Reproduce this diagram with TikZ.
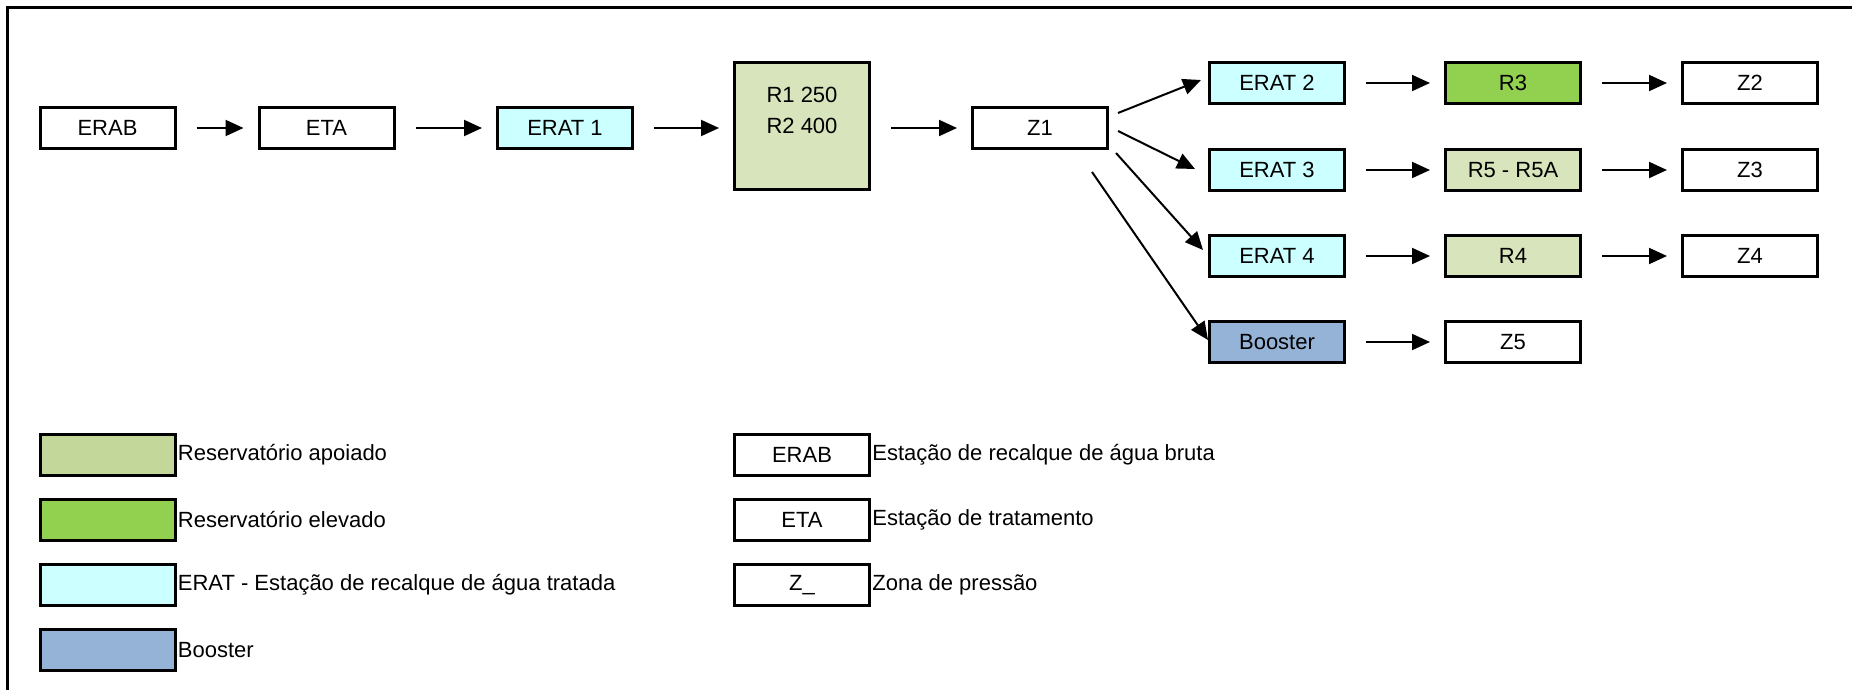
\documentclass[tikz,border=0pt]{standalone}
\usepackage{fontspec}
\setmainfont{Liberation Sans}
\usetikzlibrary{arrows.meta}

\definecolor{apoiado}{HTML}{D8E4BC}
\definecolor{apoiadoleg}{HTML}{C4D79B}
\definecolor{elevado}{HTML}{92D050}
\definecolor{eratcor}{HTML}{CCFFFF}
\definecolor{boostercor}{HTML}{95B3D7}

\begin{document}
\begin{tikzpicture}[x=0.5pt,y=-0.5pt,
		box/.style={draw,line width=1.5pt,minimum width=67.5pt,minimum height=20.5pt,inner sep=0pt,align=center,font=\fontsize{11}{15.5}\selectfont},
		flow/.style={-{Triangle[length=9pt,width=8pt]},line width=1pt,shorten <=10pt,shorten >=7pt},
		ramo/.style={-{Triangle[length=9pt,width=8pt]},line width=1pt},
		legtext/.style={inner sep=0.5pt,font=\fontsize{11}{13}\selectfont}]
				\useasboundingbox (0,0) rectangle (1852,690);
				% moldura
				\draw[line width=1.5pt] (7,690) -- (7,7.5) -- (1852,7.5);
				
				% linha principal
				\node[box] (erab) at (107.5,128) {ERAB};
				\node[box] (eta) at (326.5,128) {ETA};
				\node[box,fill=eratcor] (erat1) at (565,128) {ERAT 1};
				\node[box,fill=apoiado,minimum height=63.5pt] (r12) at (802,126) {R1 250\\R2 400\\\mbox{}};
				\node[box] (z1) at (1040,128) {Z1};
				
				% ramais
				\node[box,fill=eratcor] (erat2) at (1277,83) {ERAT 2};
				\node[box,fill=eratcor] (erat3) at (1277,170) {ERAT 3};
				\node[box,fill=eratcor] (erat4) at (1277,256) {ERAT 4};
				\node[box,fill=boostercor] (booster) at (1277,342) {Booster};
				\node[box,fill=elevado] (r3) at (1513,83) {R3};
				\node[box,fill=apoiado] (r5) at (1513,170) {R5 - R5A};
				\node[box,fill=apoiado] (r4) at (1513,256) {R4};
				\node[box] (z5) at (1513,342) {Z5};
				\node[box] (z2) at (1750,83) {Z2};
				\node[box] (z3) at (1750,170) {Z3};
				\node[box] (z4) at (1750,256) {Z4};
				
				\draw[flow] (erab) -- (eta);
				\draw[flow] (eta) -- (erat1);
				\draw[flow] (erat1) -- (erat1 -| r12.west);
				\draw[flow] (r12.east |- z1) -- (z1);
				\draw[flow] (erat2) -- (r3);
				\draw[flow] (r3) -- (z2);
				\draw[flow] (erat3) -- (r5);
				\draw[flow] (r5) -- (z3);
				\draw[flow] (erat4) -- (r4);
				\draw[flow] (r4) -- (z4);
				\draw[flow] (booster) -- (z5);
				
				% saidas de Z1
				\draw[ramo] ([shift={(9,-15)}]z1.east) -- ([shift={(-7,-3)}]erat2.west);
				\draw[ramo] ([shift={(9,3)}]z1.east) -- ([shift={(-13,-1)}]erat3.west);
				\draw[ramo] ([shift={(7,3)}]z1.south east) -- ([shift={(-5,-6)}]erat4.west);
				\draw[ramo] ([shift={(-17,22)}]z1.south east) -- ([shift={(0,-2)}]booster.west);
				
				% legenda
				\node[box,fill=apoiadoleg,label={[legtext]east:Reservatório apoiado}] (legapoiado) at (107.5,455) {};
				\node[box,fill=elevado,label={[legtext]east:Reservatório elevado}] (legelevado) at (107.5,520) {};
				\node[box,fill=eratcor,label={[legtext]east:ERAT - Estação de recalque de água tratada}] (legerat) at (107.5,585) {};
				\node[box,fill=boostercor,label={[legtext]east:Booster}] (legbooster) at (107.5,650) {};
				\node[box,label={[legtext]east:Estação de recalque de água bruta}] (legerab) at (802,455) {ERAB};
				\node[box,label={[legtext]east:Estação de tratamento}] (legeta) at (802,520) {ETA};
				\node[box,label={[legtext]east:Zona de pressão}] (legz) at (802,585) {Z\_};
			\end{tikzpicture}
\end{document}
